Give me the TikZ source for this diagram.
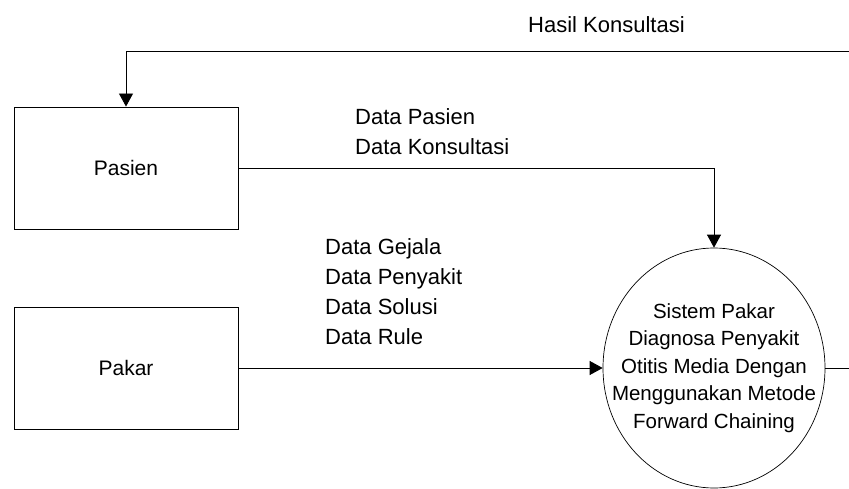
\documentclass[tikz,border=0pt]{standalone}
\usepackage{fontspec}
\setmainfont{Liberation Sans}
\usetikzlibrary{arrows.meta,shapes.geometric}
\begin{document}
\begin{tikzpicture}[x=1pt,y=-1pt,
  entity/.style={draw,line width=0.9pt,minimum width=224pt,minimum height=122pt,
    inner sep=0pt,font=\fontsize{21}{26}\selectfont},
  process/.style={draw,ellipse,line width=0.7pt,minimum width=222pt,minimum height=240pt,
    inner sep=0pt},
  processtext/.style={align=center,inner sep=0pt,font=\fontsize{20.5}{27.5}\selectfont},
  flowlabel/.style={anchor=west,align=left,inner sep=0pt,font=\fontsize{22}{30}\selectfont},
  flow/.style={line width=0.9pt,-{Triangle[length=13pt,width=14pt]}}]
  \useasboundingbox (0,0) rectangle (849,489);
  \clip (0,0) rectangle (849,489);

  % external entities
  \node[entity] (pasien) at (126,168) {Pasien};
  \node[entity] (pakar)  at (126,368) {Pakar};

  % the process: outline and its text
  \node[process] (sys) at (714,368) {};
  \node[processtext] (systext) at (sys.center)
    {Sistem Pakar\\Diagnosa Penyakit\\Otitis Media Dengan\\Menggunakan Metode\\Forward Chaining};

  % data flow labels
  \node[flowlabel] (lblout) at (528,25) {Hasil Konsultasi};
  \node[flowlabel] (lblpasien) at (355,132) {Data Pasien\\Data Konsultasi};
  \node[flowlabel] (lblpakar) at (325,292) {Data Gejala\\Data Penyakit\\Data Solusi\\Data Rule};

  % return path leaves the frame on the right
  \coordinate (loopR) at (880,51);

  % data flows
  \draw[flow] (pasien.east) -| (sys.north);
  \draw[flow] (pakar.east) -- (sys.west);
  \draw[flow] (sys.east) -- (loopR |- sys.east) -- (loopR) -| (pasien.north);
\end{tikzpicture}
\end{document}
